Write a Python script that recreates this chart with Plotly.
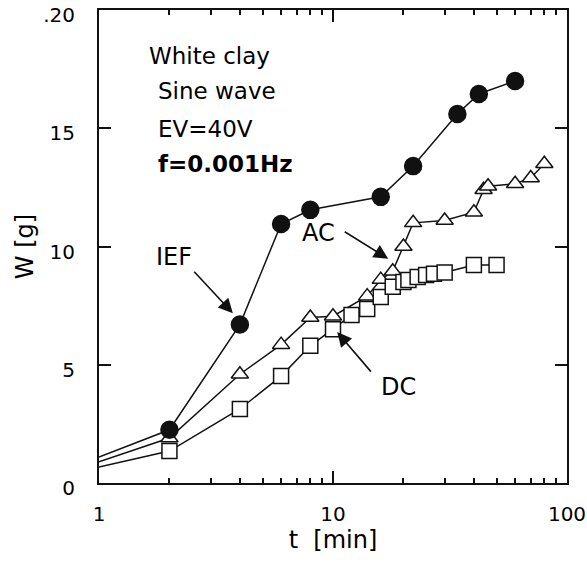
import plotly.graph_objects as go

# ---- data ----
ief_t = [1, 2, 4, 6, 8, 16, 22, 34, 42, 60]
ief_w = [1.1, 2.25, 6.7, 10.95, 11.55, 12.1, 13.4, 15.6, 16.45, 17.0]

ac_t = [1, 2, 4, 6, 8, 10, 14, 16, 18, 20, 22, 30, 40, 44, 46, 60, 70, 80]
ac_w = [0.9, 1.9, 4.6, 5.85, 7.0, 7.05, 7.9, 8.6, 8.95, 10.0, 11.0, 11.1,
        11.45, 12.4, 12.55, 12.65, 12.9, 13.5]

dc_t = [1, 2, 4, 6, 8, 10, 12, 14, 16, 18, 20, 21, 23, 25, 27, 30, 40, 50]
dc_w = [0.68, 1.35, 3.13, 4.52, 5.8, 6.5, 7.1, 7.36, 7.86, 8.3, 8.5, 8.58,
        8.71, 8.8, 8.85, 8.9, 9.22, 9.22]

y_tickvals = [0, 5, 10, 15, 20]
y_ticktext = ['0', '5', '10', '15', '.20']
x_tickvals = [1, 10, 100]
x_ticktext = ['1', '10', '100']
x_minor = [2, 3, 4, 5, 6, 7, 8, 9, 20, 30, 40, 50, 60, 70, 80, 90]

FONT = 'DejaVu Sans'
LC = '#111111'

fig = go.Figure()

series = [
    (ac_t, ac_w, 'triangle-up', 'white', 15),
    (dc_t, dc_w, 'square', 'white', 15),
    (ief_t, ief_w, 'circle', LC, 17),
]
for t, w, sym, fill, size in series:
    # connecting line (first value is where the curve enters at the axis)
    fig.add_trace(go.Scatter(x=t, y=w, mode='lines',
                             line=dict(color=LC, width=1.5),
                             hoverinfo='skip'))
    fig.add_trace(go.Scatter(x=t[1:], y=w[1:], mode='markers',
                             marker=dict(symbol=sym, size=size, color=fill,
                                         line=dict(color=LC, width=1.5))))

annotations = []
# text block
block = [
    ('White clay', 0.103, 0.903, 'normal'),
    ('Sine wave', 0.122, 0.829, 'normal'),
    ('EV=40V', 0.122, 0.749, 'normal'),
    ('f=0.001Hz', 0.122, 0.675, 'bold'),
]
for txt, x, y, wt in block:
    annotations.append(dict(text=txt, x=x, y=y, xref='paper', yref='paper',
                            xanchor='left', yanchor='middle', showarrow=False,
                            font=dict(family=FONT, size=23, color='black', weight=wt)))

# series labels
labels = [('IEF', 0.160, 0.478), ('AC', 0.468, 0.528), ('DC', 0.639, 0.202)]
for txt, x, y in labels:
    annotations.append(dict(text=txt, x=x, y=y, xref='paper', yref='paper',
                            xanchor='center', yanchor='middle', showarrow=False,
                            font=dict(family=FONT, size=24, color='black')))

# arrows (tip in paper coords, tail as pixel offset)
arrows = [(0.286, 0.359, -40, -43), (0.618, 0.474, -45, -28), (0.509, 0.319, 35, 41)]
for x, y, ax, ay in arrows:
    annotations.append(dict(text='', x=x, y=y, xref='paper', yref='paper',
                            ax=ax, ay=ay, showarrow=True, arrowhead=2,
                            arrowsize=1.8, arrowwidth=1.6, arrowcolor=LC,
                            standoff=0, startstandoff=0))

fig.update_layout(
    width=587, height=573,
    margin=dict(l=99, r=20, t=10, b=90),
    plot_bgcolor='white', paper_bgcolor='white',
    showlegend=False,
    font=dict(family=FONT, color='black', size=20),
    annotations=annotations,
)

fig.update_xaxes(
    type='log', range=[0, 2], automargin=False,
    tickmode='array', tickvals=x_tickvals, ticktext=x_ticktext,
    ticks='inside', ticklen=12, tickwidth=1.5, tickcolor=LC,
    minor=dict(tickmode='array', tickvals=x_minor, ticks='inside',
               ticklen=5, tickwidth=1.5, tickcolor=LC),
    showline=True, linecolor=LC, linewidth=2, mirror='ticks',
    showgrid=False, zeroline=False,
    tickfont=dict(family=FONT, size=20, color='black'),
    ticklabelstandoff=12, ticklabeloverflow='allow',
    title=dict(text='t  [min]', font=dict(family=FONT, size=24, color='black'),
               standoff=6),
)
fig.update_yaxes(
    range=[0, 20], automargin=False,
    tickmode='array', tickvals=y_tickvals, ticktext=y_ticktext,
    ticks='inside', ticklen=12, tickwidth=1.5, tickcolor=LC,
    showline=True, linecolor=LC, linewidth=2, mirror='ticks',
    showgrid=False, zeroline=False,
    tickfont=dict(family=FONT, size=20, color='black'),
    ticklabelstandoff=18, ticklabeloverflow='allow', ticklabelshift=5,
    title=dict(text='W [g]', font=dict(family=FONT, size=24, color='black'),
               standoff=3),
)

# remove the default 8px page margin so the figure fills the window exactly
fig.write_html('out.html', config={'displayModeBar': False},
               post_script="document.body.style.margin='0';")
